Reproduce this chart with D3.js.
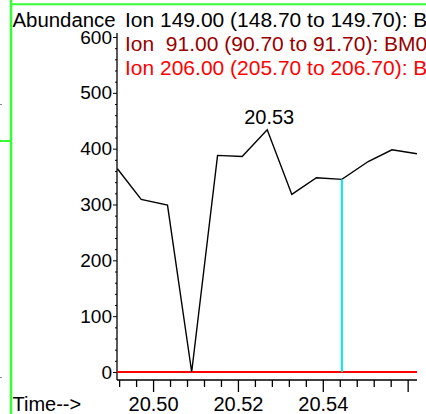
<!DOCTYPE html>
<html>
<head>
<meta charset="utf-8">
<script src="https://cdn.jsdelivr.net/npm/d3@7"></script>
<style>
  html, body { margin: 0; padding: 0; background: #fff; }
  svg { display: block; font-family: "Liberation Sans", Arial, sans-serif; }
</style>
</head>
<body>
<svg id="chart" width="426" height="414"></svg>
<script>
// Extracted ion chromatogram: retention time (min) vs abundance
const times = [20.4916, 20.4972, 20.5034, 20.5091, 20.5152, 20.5210, 20.5269,
               20.5327, 20.5385, 20.5445, 20.5507, 20.5563, 20.5622];
const ion149 = [364, 309, 299, 0, 388, 386, 434, 318, 348, 345, 377, 398, 391];
const ion91  = [0, 0, 0, 0, 0, 0, 0, 0, 0, 0, 0, 0, 0];
const ion206 = [0, 0, 0, 0, 0, 0, 0, 0, 0, 0, 0, 0, 0];

const legendLabels = [
  "Ion 149.00 (148.70 to 149.70): B",
  "Ion  91.00 (90.70 to 91.70): BM0",
  "Ion 206.00 (205.70 to 206.70): B"
];
const seriesColors = ["#000000", "#990000", "#ff0000"];

const yTicks = [0, 100, 200, 300, 400, 500, 600];
const xTickLabels = ["20.50", "20.52", "20.54"];
const xMajor = [20.50, 20.52, 20.54, 20.56];
const markerIndex = 9;   // scan highlighted by the cursor line

const svg = d3.select("#chart");

const x = d3.scaleLinear().domain([20.4915, 20.5622]).range([117, 417]);
const y = d3.scaleLinear().domain([0, 600]).range([372, 37]);

// window frame in green
const green = "#33ff33";
svg.append("line").attr("x1", 11).attr("x2", 11).attr("y1", 0).attr("y2", 414)
  .attr("stroke", green).attr("stroke-width", 2.5);
svg.append("line").attr("x1", 11).attr("x2", 426).attr("y1", 4.3).attr("y2", 4.3)
  .attr("stroke", green).attr("stroke-width", 2);
svg.append("line").attr("x1", 0).attr("x2", 11).attr("y1", 141).attr("y2", 141)
  .attr("stroke", green).attr("stroke-width", 2);
svg.append("rect").attr("x", 0).attr("y", 104).attr("width", 2).attr("height", 1).attr("fill", "#888");
svg.append("rect").attr("x", 0).attr("y", 377).attr("width", 2).attr("height", 1).attr("fill", "#888");

// Y axis
const yMinor = d3.range(0, 601, 20).filter(v => v % 100 !== 0);
svg.append("g").attr("transform", "translate(117,0)")
  .call(d3.axisLeft(y).tickValues(yMinor).tickSize(2).tickFormat(""))
  .call(g => g.select(".domain").remove())
  .call(g => g.selectAll("line").attr("stroke", "#000"));
svg.append("g").attr("transform", "translate(117,0)")
  .call(d3.axisLeft(y).tickValues(yTicks).tickSize(4).tickPadding(1).tickFormat(d3.format("d")))
  .call(g => g.select(".domain").remove())
  .call(g => g.selectAll("line").attr("stroke", "#000"))
  .call(g => g.selectAll("text").attr("font-size", 19).attr("fill", "#000")
    .attr("font-family", "Liberation Sans, Arial, sans-serif"));
svg.append("line").attr("x1", 117).attr("x2", 117).attr("y1", 33).attr("y2", 380)
  .attr("stroke", "#000").attr("stroke-width", 1.3);

// X axis
const xMinor = d3.range(20.492, 20.561, 0.004).filter(v => Math.abs(Math.round(v * 50) - v * 50) > 1e-6);
svg.append("g").attr("transform", "translate(0,380)")
  .call(d3.axisBottom(x).tickValues(xMinor).tickSize(7).tickFormat(""))
  .call(g => g.select(".domain").remove())
  .call(g => g.selectAll("line").attr("stroke", "#000").attr("stroke-width", 1.3));
svg.append("g").attr("transform", "translate(0,380)")
  .call(d3.axisBottom(x).tickValues(xMajor).tickSize(12).tickPadding(5)
    .tickFormat((d, i) => xTickLabels[i] || ""))
  .call(g => g.select(".domain").remove())
  .call(g => g.selectAll("line").attr("stroke", "#000").attr("stroke-width", 1.3))
  .call(g => g.selectAll("text").attr("font-size", 20).attr("fill", "#000")
    .attr("font-family", "Liberation Sans, Arial, sans-serif"));
svg.append("line").attr("x1", 117).attr("x2", 417).attr("y1", 380).attr("y2", 380)
  .attr("stroke", "#000").attr("stroke-width", 1.3);

// axis titles
svg.append("text").attr("x", 12.5).attr("y", 27).attr("font-size", 20)
  .attr("transform", "translate(12.5,0) scale(1.02,1) translate(-12.5,0)").text("Abundance");
svg.append("text").attr("x", 12.5).attr("y", 411).attr("font-size", 20).text("Time-->");

// legend lines (slightly wide lettering)
legendLabels.forEach((t, i) => {
  svg.append("text")
    .attr("transform", `translate(125,${27 + i * 24}) scale(1.05,1)`)
    .attr("font-size", 20).attr("fill", seriesColors[i])
    .attr("xml:space", "preserve").style("white-space", "pre").text(t);
});

// traces
const line = d3.line().x((d, i) => x(times[i])).y(d => y(d));
const seriesList = [ion91, ion206, ion149];
const colorList = [seriesColors[1], seriesColors[2], seriesColors[0]];
seriesList.forEach((s, k) => {
  svg.append("path").datum(s).attr("d", line)
    .attr("fill", "none").attr("stroke", colorList[k])
    .attr("stroke-width", k === 2 ? 1.4 : 2);
});

// cursor at the selected scan
svg.append("line")
  .attr("x1", x(times[markerIndex])).attr("x2", x(times[markerIndex]))
  .attr("y1", y(0)).attr("y2", y(ion149[markerIndex]))
  .attr("stroke", "#00e8f0").attr("stroke-width", 2);

// apex retention time label
const peak = d3.maxIndex(ion149);
svg.append("text").attr("x", x(times[peak]) + 2).attr("y", y(ion149[peak]) - 6)
  .attr("text-anchor", "middle").attr("font-size", 20)
  .text(d3.format(".2f")(times[peak]));
</script>
</body>
</html>
